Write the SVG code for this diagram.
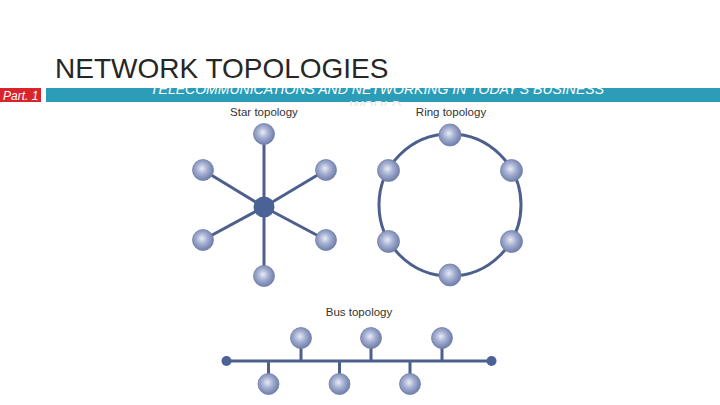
<svg xmlns="http://www.w3.org/2000/svg" width="720" height="405" viewBox="0 0 720 405">
<defs>
<radialGradient id="ball" cx="0.45" cy="0.45" r="0.6" fx="0.45" fy="0.42">
<stop offset="0" stop-color="#e8ecf6"/>
<stop offset="0.45" stop-color="#a3aed0"/>
<stop offset="1" stop-color="#6676a6"/>
</radialGradient>
<clipPath id="clipWorld"><rect x="0" y="0" width="720" height="106"/></clipPath>
<style>
.title{font-family:"Liberation Sans",Arial,sans-serif;font-size:28px;fill:#262626;}
.sub{font-family:"Liberation Sans",Arial,sans-serif;font-size:14px;font-style:italic;fill:#ffffff;}
.part{font-family:"Liberation Sans",Arial,sans-serif;font-size:12px;font-style:italic;fill:#ffffff;}
.lbl{font-family:"Liberation Sans",Arial,sans-serif;font-size:11.5px;fill:#333333;text-anchor:middle;}
.node{fill:url(#ball);stroke:#7382aa;stroke-width:0.8;}
.hub{fill:#4a6296;}
.wire{stroke:#4d5f8c;stroke-width:3;fill:none;}
</style>
</defs>
<rect width="720" height="405" fill="#ffffff"/>
<text class="title" x="55" y="78">NETWORK TOPOLOGIES</text>
<rect x="0" y="88" width="41" height="14" fill="#d9242b"/>
<text class="part" x="3" y="99.5">Part. 1</text>
<rect x="46" y="88" width="674" height="14" fill="#2b9db9"/>
<text class="sub" x="377" y="94" text-anchor="middle" textLength="454" lengthAdjust="spacingAndGlyphs">TELECOMMUNICATIONS AND NETWORKING IN TODAY'S BUSINESS</text>
<text class="sub" x="375" y="111" text-anchor="middle" clip-path="url(#clipWorld)" style="fill:#e6e6e6">WORLD</text>

<text class="lbl" x="264" y="115.5">Star topology</text>
<text class="lbl" x="451" y="115.5">Ring topology</text>
<text class="lbl" x="359" y="316">Bus topology</text>

<g id="connectors">
<line class="wire" x1="264" y1="207" x2="264" y2="134"/>
<line class="wire" x1="264" y1="207" x2="264" y2="276"/>
<line class="wire" x1="264" y1="207" x2="203" y2="170"/>
<line class="wire" x1="264" y1="207" x2="326" y2="170"/>
<line class="wire" x1="264" y1="207" x2="203" y2="240"/>
<line class="wire" x1="264" y1="207" x2="326" y2="240"/>
<circle class="wire" cx="450" cy="205" r="71"/>
<line class="wire" x1="226" y1="361" x2="492" y2="361"/>
<line class="wire" x1="301" y1="338" x2="301" y2="361"/>
<line class="wire" x1="371" y1="338" x2="371" y2="361"/>
<line class="wire" x1="442" y1="338" x2="442" y2="361"/>
<line class="wire" x1="268.5" y1="361" x2="268.5" y2="384"/>
<line class="wire" x1="339.5" y1="361" x2="339.5" y2="384"/>
<line class="wire" x1="410" y1="361" x2="410" y2="384"/>
</g>

<g id="star-hub"><circle class="hub" cx="264" cy="207" r="10.5"/></g>
<g id="star-n1"><circle class="node" cx="264" cy="134" r="10.5"/></g>
<g id="star-n2"><circle class="node" cx="326" cy="170" r="10.5"/></g>
<g id="star-n3"><circle class="node" cx="326" cy="240" r="10.5"/></g>
<g id="star-n4"><circle class="node" cx="264" cy="276" r="10.5"/></g>
<g id="star-n5"><circle class="node" cx="203" cy="240" r="10.5"/></g>
<g id="star-n6"><circle class="node" cx="203" cy="170" r="10.5"/></g>

<g id="ring-n1"><circle class="node" cx="450" cy="135" r="11"/></g>
<g id="ring-n2"><circle class="node" cx="511.5" cy="170.5" r="11"/></g>
<g id="ring-n3"><circle class="node" cx="511.5" cy="241.5" r="11"/></g>
<g id="ring-n4"><circle class="node" cx="450" cy="275" r="11"/></g>
<g id="ring-n5"><circle class="node" cx="388.5" cy="241.5" r="11"/></g>
<g id="ring-n6"><circle class="node" cx="388.5" cy="170.5" r="11"/></g>

<g id="bus-end-left"><circle class="hub" cx="226.5" cy="361" r="5"/></g>
<g id="bus-end-right"><circle class="hub" cx="491.5" cy="361" r="5"/></g>
<g id="bus-u1"><circle class="node" cx="301" cy="338" r="10.5"/></g>
<g id="bus-u2"><circle class="node" cx="371" cy="338" r="10.5"/></g>
<g id="bus-u3"><circle class="node" cx="442" cy="338" r="10.5"/></g>
<g id="bus-d1"><circle class="node" cx="268.5" cy="384" r="10.5"/></g>
<g id="bus-d2"><circle class="node" cx="339.5" cy="384" r="10.5"/></g>
<g id="bus-d3"><circle class="node" cx="410" cy="384" r="10.5"/></g>
</svg>
